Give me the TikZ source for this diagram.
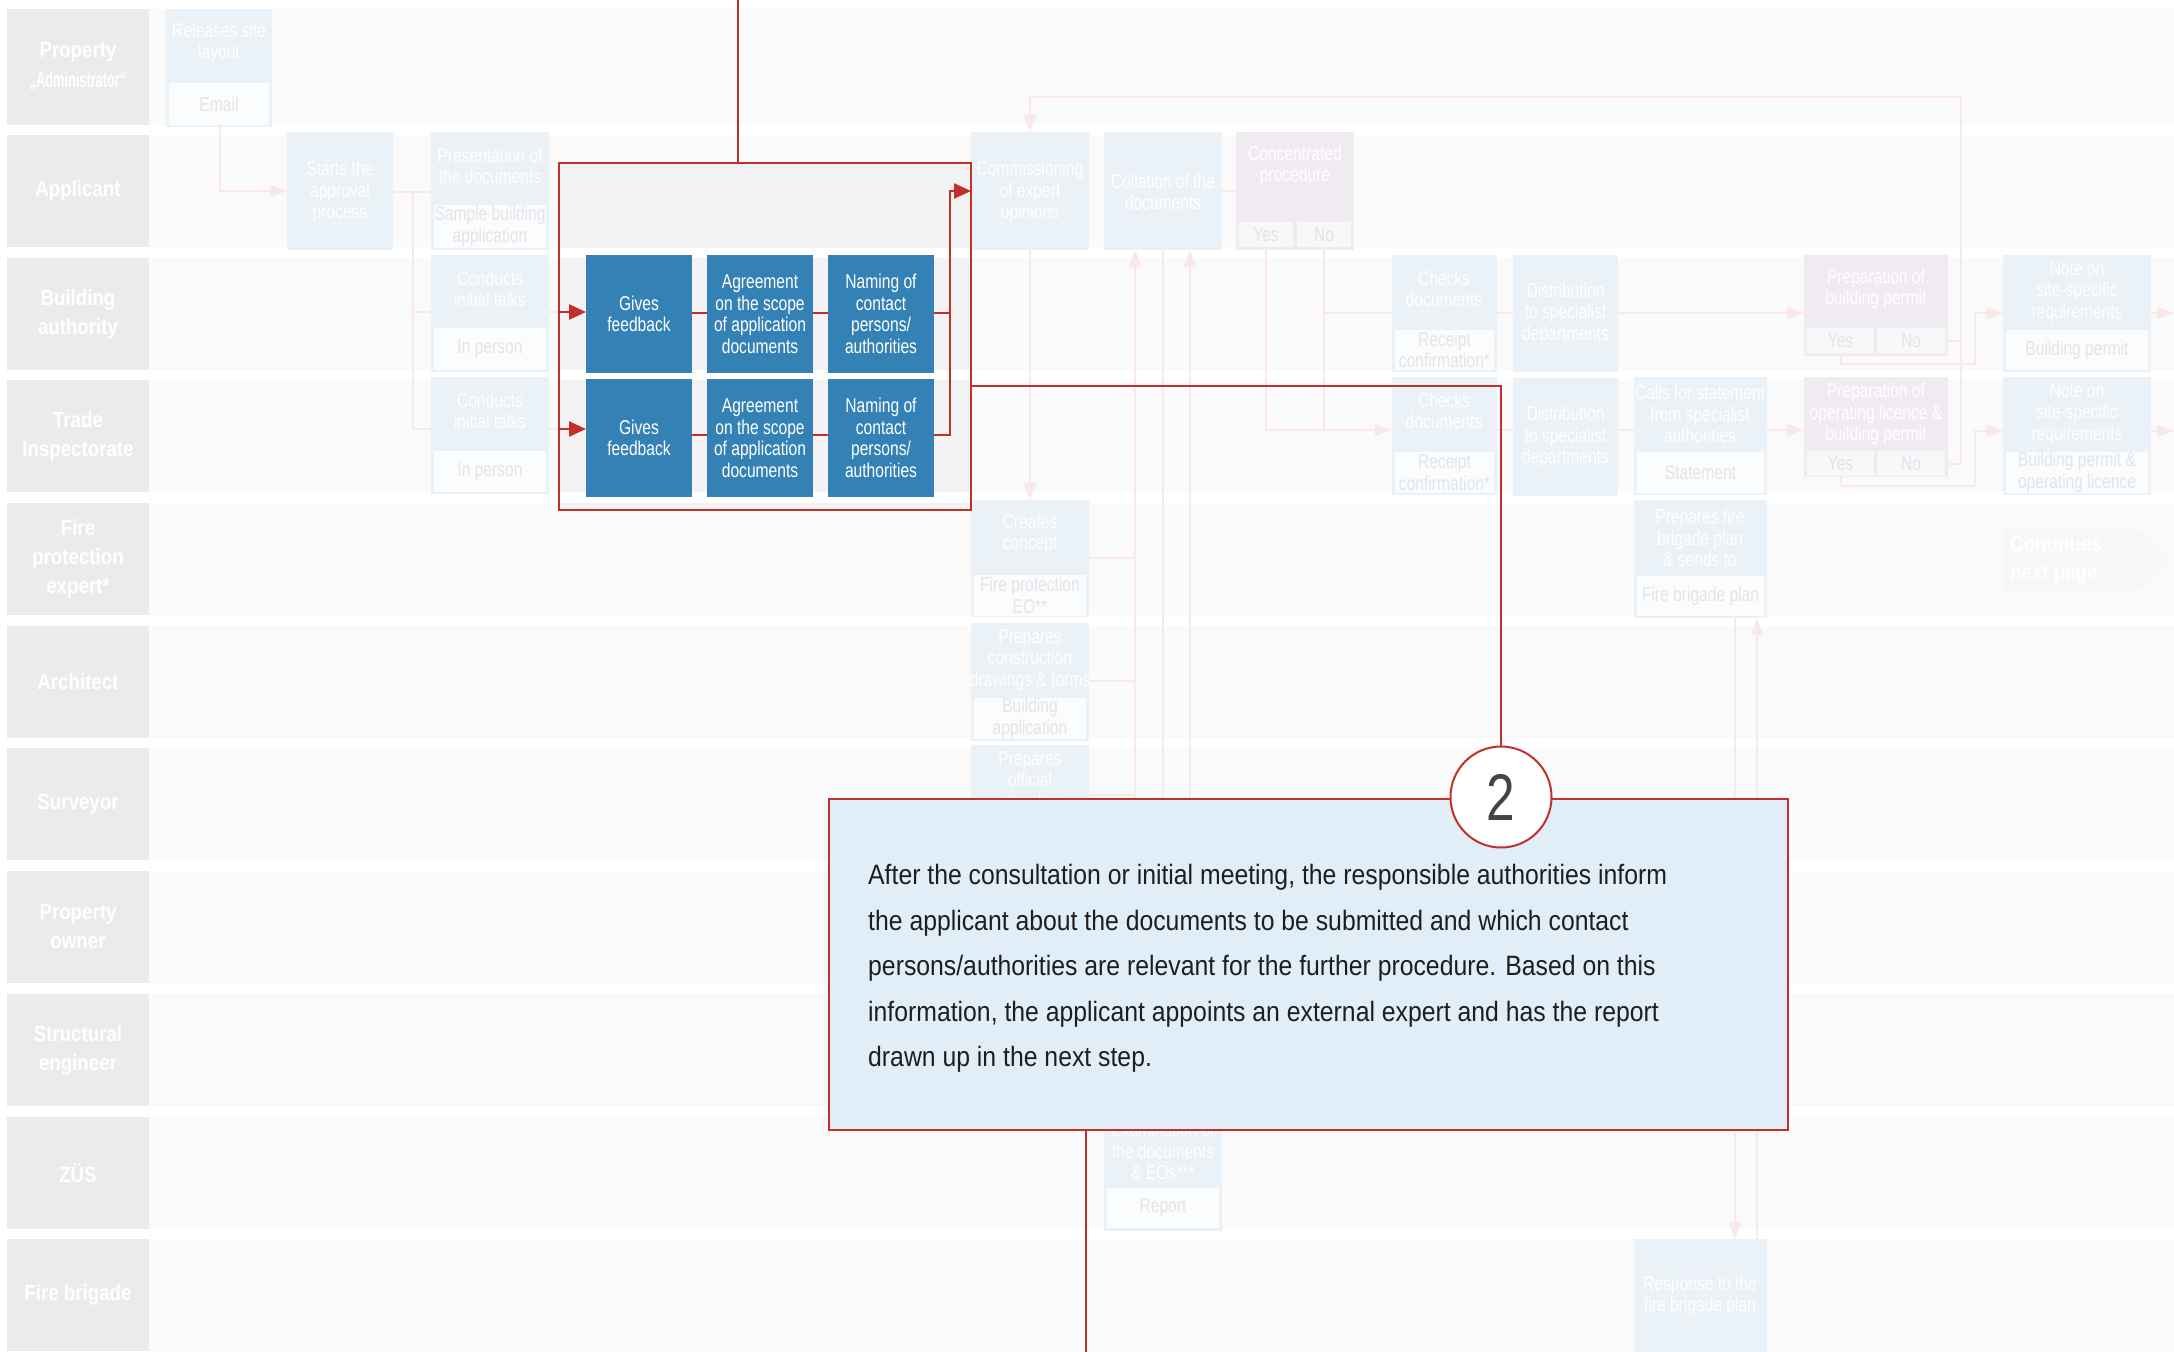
\documentclass[tikz,border=0pt]{standalone}
\usepackage{fontspec}
\setmainfont{Liberation Sans}[FakeStretch=0.78]
\newfontfamily\lanefont{Liberation Sans}[FakeStretch=0.85]
\newfontfamily\narrowlanefont{Liberation Sans}[FakeStretch=0.58]
\newfontfamily\notefont{Liberation Sans}[FakeStretch=0.885]
\usetikzlibrary{arrows.meta}

\definecolor{bandgrey}{HTML}{FAFAFA}
\definecolor{lanegrey}{HTML}{EBEBEB}
\definecolor{framegrey}{HTML}{F2F2F2}
\definecolor{fadeblue}{HTML}{EAF1F7}
\definecolor{subfill}{HTML}{FAFCFE}
\definecolor{subtext}{HTML}{E2E4E7}
\definecolor{fadepink}{HTML}{FAE7E7}
\definecolor{pinkbox}{HTML}{F0EBF0}
\definecolor{pinksub}{HTML}{F8F7F9}
\definecolor{mainred}{HTML}{C1302A}
\definecolor{stepblue}{HTML}{3481B5}
\definecolor{calloutblue}{HTML}{E1EEF8}
\definecolor{contgrey}{HTML}{F7F7F7}
\definecolor{textdark}{HTML}{1E1E1E}
\definecolor{numgrey}{HTML}{444444}

\begin{document}
\begin{tikzpicture}[x=1pt,y=-1pt,
  lane/.style={anchor=north west, fill=lanegrey, text=white,
    font=\lanefont\bfseries\fontsize{22}{29}\selectfont, align=center,
    inner sep=0pt, outer sep=0pt, minimum width=142, minimum height=112},
  fbox/.style={anchor=north west, fill=fadeblue, inner sep=0pt, outer sep=0pt},
  pbox/.style={anchor=north west, fill=pinkbox, inner sep=0pt, outer sep=0pt},
  ftext/.style={text=white, align=center, inner sep=0pt,
    font=\fontsize{20}{21.5}\selectfont},
  fsub/.style={anchor=north west, fill=subfill, text=subtext, align=center,
    inner sep=0pt, outer sep=0pt, font=\fontsize{20}{21.5}\selectfont},
  psub/.style={fsub, fill=pinksub},
  fline/.style={draw=fadepink, line width=2pt},
  farrow/.style={fline, -{Triangle[length=17pt,width=12pt]}},
  rline/.style={draw=mainred, line width=2.5pt},
  rarrow/.style={rline, -{Triangle[length=17pt,width=15pt]}},
  stepbox/.style={anchor=north west, fill=stepblue, text=white, align=center,
    inner sep=0pt, outer sep=0pt, minimum width=106, minimum height=118,
    font=\fontsize{20}{21.5}\selectfont},
]
\useasboundingbox (0,0) rectangle (2174,1352);
\fill[white] (0,0) rectangle (2174,1352);

% swim lane bands
\foreach \t/\h in {9/116,135/112,258/112,380/112,503/112,626/112,748/112,871/112,994/112,1117/112,1239/113}
  \fill[bandgrey] (149,\t) rectangle (2174,{\t+\h});

% lane labels
\node[lane, minimum height=116] (l1) at (7,9) {Property\\[1pt]{\narrowlanefont\bfseries\fontsize{22}{26}\selectfont„Administrator“}};
\node[lane] (l2) at (7,135) {Applicant};
\node[lane] (l3) at (7,258) {Building\\authority};
\node[lane] (l4) at (7,380) {Trade\\Inspectorate};
\node[lane] (l5) at (7,503) {Fire\\protection\\expert*};
\node[lane] (l6) at (7,626) {Architect};
\node[lane] (l7) at (7,748) {Surveyor};
\node[lane] (l8) at (7,871) {Property\\owner};
\node[lane] (l9) at (7,994) {Structural\\engineer};
\node[lane] (l10) at (7,1117) {ZÜS};
\node[lane] (l11) at (7,1239) {Fire brigade};

% ---------- faded process boxes ----------
\node[fbox, minimum width=106, minimum height=118] (rsl) at (166,9) {};
\node[ftext] (rslt) at (219,43) {Releases site\\layout};
\node[fsub, minimum width=100, minimum height=42] (rsls) at (169,83) {Email};

\node[fbox, minimum width=106, minimum height=118] (sap) at (287,132) {};
\node[ftext] (sapt) at (340,192) {Starts the\\approval\\process};

\node[fbox, minimum width=118, minimum height=118] (pres) at (431,132) {};
\node[ftext] (prest) at (490,166) {Presentation of\\the documents};
\node[fsub, minimum width=112, minimum height=43] (press) at (434,205) {Sample building\\application};

\node[fbox, minimum width=118, minimum height=117] (cit1) at (431,255) {};
\node[ftext] (cit1t) at (490,289) {Conducts\\initial talks};
\node[fsub, minimum width=112, minimum height=42] (cit1s) at (434,328) {In person};

\node[fbox, minimum width=118, minimum height=117] (cit2) at (431,377) {};
\node[ftext] (cit2t) at (490,411) {Conducts\\initial talks};
\node[fsub, minimum width=112, minimum height=41] (cit2s) at (434,451) {In person};

\node[fbox, minimum width=118, minimum height=118] (comm) at (971,132) {};
\node[ftext] (commt) at (1030,192) {Commissioning\\of expert\\opinions};

\node[fbox, minimum width=118, minimum height=118] (coll) at (1104,132) {};
\node[ftext] (collt) at (1163,192) {Collation of the\\documents};

\node[pbox, minimum width=118, minimum height=118] (conc) at (1236,132) {};
\node[ftext] (conct) at (1295,166) {Concentrated\\procedure};
\node[psub, minimum width=54, minimum height=25] (cyes) at (1239,222) {Yes};
\node[psub, minimum width=54, minimum height=25] (cno) at (1297,222) {No};

\node[fbox, minimum width=105, minimum height=117] (chk1) at (1392,255) {};
\node[ftext] (chk1t) at (1444,289) {Checks\\documents};
\node[fsub, minimum width=99, minimum height=40] (chk1s) at (1395,330) {Receipt\\confirmation*};

\node[fbox, minimum width=105, minimum height=118] (chk2) at (1392,377) {};
\node[ftext] (chk2t) at (1444,411) {Checks\\documents};
\node[fsub, minimum width=99, minimum height=41] (chk2s) at (1395,452) {Receipt\\confirmation*};

\node[fbox, minimum width=105, minimum height=117, text=white, align=center,
  font=\fontsize{20}{21.5}\selectfont] (dist1) at (1513,255) {Distribution\\to specialist\\departments};
\node[fbox, minimum width=105, minimum height=118, text=white, align=center,
  font=\fontsize{20}{21.5}\selectfont] (dist2) at (1513,378) {Distribution\\to specialist\\departments};

\node[fbox, minimum width=133, minimum height=118] (calls) at (1634,377) {};
\node[ftext] (callst) at (1700,414) {Calls for statement\\from specialist\\authorities};
\node[fsub, minimum width=127, minimum height=41] (callss) at (1637,452) {Statement};

\node[pbox, minimum width=144, minimum height=101] (pbp) at (1804,255) {};
\node[ftext] (pbpt) at (1876,289) {Preparation of\\building permit};
\node[psub, minimum width=67, minimum height=25] (pbpy) at (1807,328) {Yes};
\node[psub, minimum width=68, minimum height=25] (pbpn) at (1877,328) {No};

\node[pbox, minimum width=144, minimum height=100] (pol) at (1804,377) {};
\node[ftext] (polt) at (1876,414) {Preparation of\\operating licence \&\\building permit};
\node[psub, minimum width=67, minimum height=25] (poly) at (1807,451) {Yes};
\node[psub, minimum width=68, minimum height=25] (poln) at (1877,451) {No};

\node[fbox, minimum width=148, minimum height=117] (note1) at (2003,255) {};
\node[ftext] (note1t) at (2077,292) {Note on\\site-specific\\requirements};
\node[fsub, minimum width=142, minimum height=40] (note1s) at (2006,330) {Building permit};

\node[fbox, minimum width=148, minimum height=118] (note2) at (2003,377) {};
\node[ftext] (note2t) at (2077,414) {Note on\\site-specific\\requirements};
\node[fsub, minimum width=142, minimum height=41] (note2s) at (2006,452) {Building permit \&\\operating licence};

\node[fbox, minimum width=118, minimum height=117] (cc) at (971,500) {};
\node[ftext] (cct) at (1030,534) {Creates\\concept};
\node[fsub, minimum width=112, minimum height=41] (ccs) at (974,575) {Fire protection\\EO**};

\node[fbox, minimum width=118, minimum height=118] (pcd) at (971,623) {};
\node[ftext] (pcdt) at (1030,660) {Prepares\\construction\\drawings \& forms};
\node[fsub, minimum width=112, minimum height=41] (pcds) at (974,698) {Building\\application};

\node[fbox, minimum width=118, minimum height=118] (poff) at (971,745) {};
\node[ftext] (pofft) at (1030,782) {Prepares\\official\\site plan};

\node[fbox, minimum width=133, minimum height=118] (fbp) at (1634,500) {};
\node[ftext] (fbpt) at (1700,538) {Prepares fire\\brigade plan\\\& sends to};
\node[fsub, minimum width=127, minimum height=40] (fbps) at (1637,576) {Fire brigade plan};

\node[fbox, minimum width=118, minimum height=114] (zus) at (1104,1117) {};
\node[ftext] (zust) at (1163,1151) {Examination of\\the documents\\\& EOs***};
\node[fsub, minimum width=112, minimum height=40] (zuss) at (1107,1188) {Report};

\node[fbox, minimum width=133, minimum height=114] (resp) at (1634,1239) {};
\node[ftext] (respt) at (1700,1296) {Response to the\\fire brigade plan};

% continuation marker
\fill[contgrey] (2003,527) -- (2133,527) -- (2174,560) -- (2133,593) -- (2003,593) -- cycle;
\node[anchor=west, align=left, inner sep=0pt, text=white,
  font=\lanefont\bfseries\fontsize{22}{28}\selectfont] (cont) at (2010,560) {Continues\\next page};

% ---------- faded connectors ----------
\coordinate (loopTop) at (1961,97);
\coordinate (hubA) at (413,192);
\coordinate (redEnd1) at (559,312);
\coordinate (redEnd2) at (559,429);
\draw[farrow] (rsls.south -| 220,0) -- (220,191) -- (sap.west |- 0,191);
\draw[fline] (sap.east |- hubA) -- (pres.west |- hubA);
\draw[fline] (hubA) -- (413,429);
\draw[fline] (413,312) -- (cit1.west |- redEnd1);
\draw[fline] (413,429) -- (cit2.west |- redEnd2);
\draw[fline] (cit1.east |- redEnd1) -- (redEnd1);
\draw[fline] (cit2.east |- redEnd2) -- (redEnd2);

\draw[farrow] (poln.east) -- (loopTop |- poln.east) -- (loopTop) -- (comm.north |- loopTop) -- (comm.north);
\draw[fline] (pbpn.east) -- (loopTop |- pbpn.east);
\draw[farrow] (comm.south) -- (cc.north);
\draw[fline] (cc.east |- 0,558) -- (1135,558);
\draw[fline] (pcd.east |- 0,681) -- (1135,681);
\draw[fline] (poff.east |- 0,795) -- (1135,795);
\draw[farrow] (1135,1100) -- (coll.south -| 1135,0);
\draw[fline] (coll.south) -- (zus.north);
\draw[farrow] (zus.north -| 1190,0) -- (coll.south -| 1190,0);
\draw[fline] (coll.east) -- (conc.west);
\draw[farrow] (cyes.south) -- (cyes.south |- 0,430) -- (chk2.west |- 0,430);
\draw[fline] (cno.south) -- (cno.south |- 0,430);
\draw[fline] (cno.south |- 0,313) -- (chk1.west |- 0,313);
\draw[fline] (chk1.east |- 0,313) -- (dist1.west |- 0,313);
\draw[fline] (chk2.east |- 0,430) -- (dist2.west |- 0,430);
\draw[farrow] (dist1.east |- 0,313) -- (pbp.west |- 0,313);
\draw[fline] (dist2.east |- 0,430) -- (calls.west |- 0,430);
\draw[farrow] (calls.east |- 0,430) -- (pol.west |- 0,430);
\draw[farrow] (pbpy.south) -- (pbpy.south |- 0,364) -- (1975,364) -- (1975,313) -- (note1.west |- 0,313);
\draw[farrow] (poly.south) -- (poly.south |- 0,486) -- (1975,486) -- (1975,431) -- (note2.west |- 0,431);
\draw[farrow] (note1.east |- 0,313) -- (2174,313);
\draw[farrow] (note2.east |- 0,431) -- (2174,431);
\draw[farrow] (fbp.south -| 1735,0) -- (resp.north -| 1735,0);
\draw[farrow] (resp.north -| 1757,0) -- (fbp.south -| 1757,0);

% ---------- highlighted step ----------
\fill[white] (559,163) rectangle (971,510);
\fill[framegrey] (559,163) rectangle (971,248);
\fill[framegrey] (559,258) rectangle (971,370);
\fill[framegrey] (559,380) rectangle (971,492);
\fill[framegrey] (559,503) rectangle (971,510);
\node[anchor=north west, draw=mainred, line width=2.5pt, minimum width=412,
  minimum height=347, inner sep=0pt, outer sep=0pt] (frame) at (559,163) {};

\node[stepbox] (gf1) at (586,255) {Gives\\feedback};
\node[stepbox] (ag1) at (707,255) {Agreement\\on the scope\\of application\\documents};
\node[stepbox] (nm1) at (828,255) {Naming of\\contact\\persons/\\authorities};
\node[stepbox] (gf2) at (586,379) {Gives\\feedback};
\node[stepbox] (ag2) at (707,379) {Agreement\\on the scope\\of application\\documents};
\node[stepbox] (nm2) at (828,379) {Naming of\\contact\\persons/\\authorities};

\coordinate (topEnd) at (738,0);
\coordinate (joinX) at (950,191);
\draw[rline] (topEnd) -- (topEnd |- frame.north);
\draw[rarrow] (redEnd1) -- (gf1.west |- redEnd1);
\draw[rarrow] (redEnd2) -- (gf2.west |- redEnd2);
\draw[rline] (gf1.east |- 0,313) -- (ag1.west |- 0,313);
\draw[rline] (ag1.east |- 0,313) -- (nm1.west |- 0,313);
\draw[rline] (gf2.east |- 0,435) -- (ag2.west |- 0,435);
\draw[rline] (ag2.east |- 0,435) -- (nm2.west |- 0,435);
\draw[rline] (nm1.east |- 0,313) -- (joinX |- 0,313);
\draw[rarrow] (nm2.east |- 0,435) -- (joinX |- 0,435) -- (joinX) -- (comm.west |- joinX);

% ---------- explanation ----------
\node[anchor=north west, draw=mainred, fill=calloutblue, line width=2pt,
  minimum width=959, minimum height=331, inner sep=0pt, outer sep=0pt] (note) at (829,799) {};
\node[anchor=north west, align=left, inner sep=0pt, text=textdark,
  font=\notefont\fontsize{28}{45.5}\selectfont] (notetext) at (868,864)
  {After the consultation or initial meeting, the responsible authorities inform\\
   the applicant about the documents to be submitted and which contact\\
   persons/authorities are relevant for the further procedure. Based on this\\
   information, the applicant appoints an external expert and has the report\\
   drawn up in the next step.};
\node[circle, draw=mainred, fill=white, line width=2pt, minimum size=101,
  inner sep=0pt, text=numgrey, font=\fontsize{66}{66}\selectfont] (num) at (1501,797) {2};
\coordinate (bottomEnd) at (1086,1352);
\draw[rline] (frame.east |- 0,386) -- (num.north |- 0,386) -- (num.north);
\draw[rline] (note.south -| bottomEnd) -- (bottomEnd);
\end{tikzpicture}
\end{document}
